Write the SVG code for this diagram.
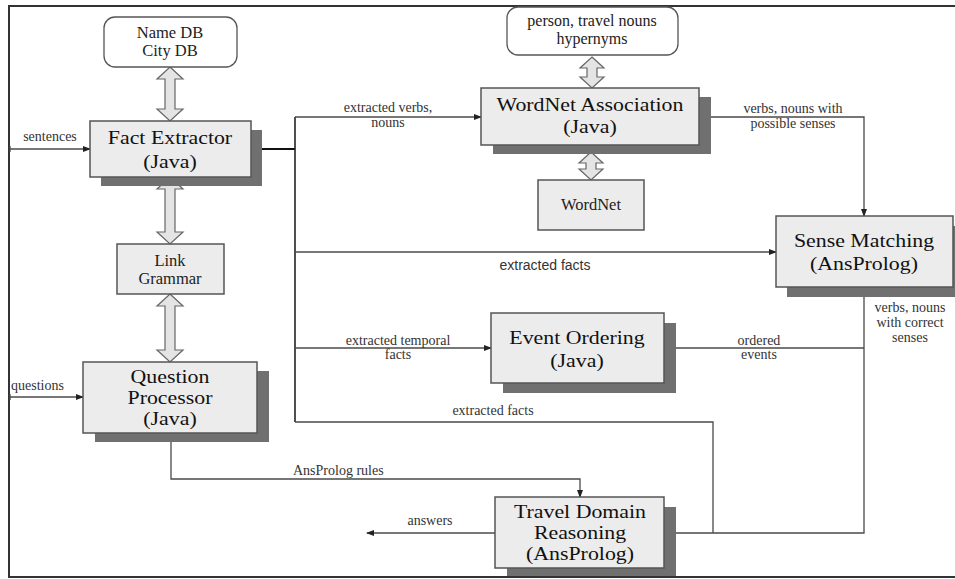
<svg xmlns="http://www.w3.org/2000/svg" width="955" height="579" viewBox="0 0 955 579">
<defs>
<marker id="ah" markerUnits="userSpaceOnUse" markerWidth="8" markerHeight="6" refX="7" refY="3" orient="auto">
<path d="M0,0 L8,3 L0,6 Z" fill="#222"/>
</marker>
</defs>
<style>
.frame{fill:none;stroke:#333;stroke-width:2}
.box{fill:#ececec;stroke:#555;stroke-width:1.5}
.shadow{fill:#707070}
.rbox{fill:#fff;stroke:#555;stroke-width:1.3}
.dbl{fill:#e4e4e4;stroke:#666;stroke-width:1.2}
.ln{fill:none;stroke:#4a4a4a;stroke-width:1.3}
.thick{fill:none;stroke:#111;stroke-width:2}
.big{font-family:"Liberation Serif",serif;font-size:19px;fill:#111;text-anchor:middle}
.mid{font-family:"Liberation Serif",serif;font-size:16.5px;fill:#222;text-anchor:middle}
.lbl{font-family:"Liberation Serif",serif;font-size:14px;fill:#333;text-anchor:middle}
.lbls{font-family:"Liberation Sans",sans-serif;font-size:14px;fill:#333;text-anchor:middle}
</style>
<rect x="0" y="0" width="955" height="579" fill="#fff"/>
<path class="frame" d="M960,6 H9 V577 H960"/>

<g id="connectors">
<path class="ln" d="M10,149 H90" marker-end="url(#ah)"/>
<path class="ln" d="M10,146 V152"/>
<text class="lbl" x="50" y="141">sentences</text>
<path class="thick" d="M251,149 H295"/>
<path class="ln" d="M295,117 V422" style="stroke:#222;stroke-width:1.6"/>
<path class="ln" d="M295,117 H481" marker-end="url(#ah)"/>
<text class="lbl" x="388" y="112">extracted verbs,</text>
<text class="lbl" x="388" y="127">nouns</text>
<path class="ln" d="M295,252 H776" marker-end="url(#ah)"/>
<text class="lbls" x="545" y="270">extracted facts</text>
<path class="ln" d="M295,348 H491" marker-end="url(#ah)"/>
<text class="lbl" x="398" y="345">extracted temporal</text>
<text class="lbl" x="398" y="359">facts</text>
<path class="ln" d="M295,422 H713 V533"/>
<text class="lbl" x="493" y="415">extracted facts</text>
<path class="ln" d="M699,117 H864 V216" marker-end="url(#ah)"/>
<text class="lbl" x="793" y="113">verbs, nouns with</text>
<text class="lbl" x="793" y="128">possible senses</text>
<path class="ln" d="M864,287 V533 H664" marker-end="url(#ah)"/>
<text class="lbl" x="910" y="312">verbs, nouns</text>
<text class="lbl" x="910" y="327">with correct</text>
<text class="lbl" x="910" y="342">senses</text>
<path class="ln" d="M664,348 H864"/>
<text class="lbl" x="759" y="345">ordered</text>
<text class="lbl" x="759" y="359">events</text>
<path class="ln" d="M10,397 H83" marker-end="url(#ah)"/>
<path class="ln" d="M10,394 V400"/>
<text class="lbl" x="11" y="390" style="text-anchor:start">questions</text>
<path class="ln" d="M171,433 V479 H580 V497" marker-end="url(#ah)"/>
<text class="lbl" x="293" y="475" style="text-anchor:start">AnsProlog rules</text>
<path class="ln" d="M495,533 H367" marker-end="url(#ah)"/>
<text class="lbl" x="430" y="525">answers</text>
<polygon class="dbl" points="170,67 183,79 175,79 175,109 183,109 170,121 157,109 165,109 165,79 157,79"/>
<polygon class="dbl" points="170,177 183,189 175,189 175,232 183,232 170,244 157,232 165,232 165,189 157,189"/>
<polygon class="dbl" points="170,294 183,306 175,306 175,350 183,350 170,362 157,350 165,350 165,306 157,306"/>
<polygon class="dbl" points="592,57 604,68 597,68 597,77 604,77 592,88 580,77 587,77 587,68 580,68"/>
<polygon class="dbl" points="591,152 603,163 596,163 596,169 603,169 591,180 579,169 586,169 586,163 579,163"/>
</g>

<g id="namedb">
<rect class="rbox" x="104" y="17" width="133" height="50" rx="11"/>
<text class="mid" x="170" y="38">Name DB</text>
<text class="mid" x="170" y="56">City DB</text>
</g>

<g id="person">
<rect class="rbox" x="507" y="7" width="171" height="48" rx="11"/>
<text class="mid" x="592" y="26" style="font-size:16px">person, travel nouns</text>
<text class="mid" x="592" y="44" style="font-size:16px">hypernyms</text>
</g>

<g id="factextractor">
<rect class="shadow" x="101" y="130" width="161" height="56"/>
<rect class="box" x="90" y="121" width="161" height="56"/>
<text class="big" x="170" y="144" transform="matrix(1.15 0 0 1 -25.5 0)">Fact Extractor</text>
<text class="big" x="170" y="168" transform="matrix(1.15 0 0 1 -25.5 0)">(Java)</text>
</g>

<g id="wordnetassoc">
<rect class="shadow" x="493" y="97" width="218" height="57"/>
<rect class="box" x="481" y="88" width="218" height="57"/>
<text class="big" x="590" y="111" transform="matrix(1.15 0 0 1 -88.5 0)">WordNet Association</text>
<text class="big" x="590" y="133" transform="matrix(1.15 0 0 1 -88.5 0)">(Java)</text>
</g>

<g id="wordnet">
<rect class="box" x="538" y="180" width="106" height="50"/>
<text class="mid" x="591" y="210">WordNet</text>
</g>

<g id="sensematching">
<rect class="shadow" x="787" y="226" width="177" height="71"/>
<rect class="box" x="776" y="216" width="177" height="71"/>
<text class="big" x="864" y="247" transform="matrix(1.15 0 0 1 -129.6 0)">Sense Matching</text>
<text class="big" x="864" y="270" transform="matrix(1.15 0 0 1 -129.6 0)">(AnsProlog)</text>
</g>

<g id="linkgrammar">
<rect class="box" x="117" y="244" width="107" height="50"/>
<text class="mid" x="170" y="266">Link</text>
<text class="mid" x="170" y="284">Grammar</text>
</g>

<g id="eventordering">
<rect class="shadow" x="503" y="323" width="173" height="70"/>
<rect class="box" x="491" y="313" width="173" height="70"/>
<text class="big" x="577" y="344" transform="matrix(1.15 0 0 1 -86.55 0)">Event Ordering</text>
<text class="big" x="577" y="367" transform="matrix(1.15 0 0 1 -86.55 0)">(Java)</text>
</g>

<g id="questionprocessor">
<rect class="shadow" x="95" y="371" width="174" height="71"/>
<rect class="box" x="83" y="362" width="174" height="71"/>
<text class="big" x="170" y="383" transform="matrix(1.15 0 0 1 -25.5 0)">Question</text>
<text class="big" x="170" y="404" transform="matrix(1.15 0 0 1 -25.5 0)">Processor</text>
<text class="big" x="170" y="425" transform="matrix(1.15 0 0 1 -25.5 0)">(Java)</text>
</g>

<g id="traveldomain">
<rect class="shadow" x="507" y="507" width="169" height="70"/>
<rect class="box" x="495" y="497" width="169" height="71"/>
<text class="big" x="580" y="518" transform="matrix(1.15 0 0 1 -87 0)">Travel Domain</text>
<text class="big" x="580" y="539" transform="matrix(1.15 0 0 1 -87 0)">Reasoning</text>
<text class="big" x="580" y="560" transform="matrix(1.15 0 0 1 -87 0)">(AnsProlog)</text>
</g>
<path class="frame" d="M9,577 H960"/>
</svg>
